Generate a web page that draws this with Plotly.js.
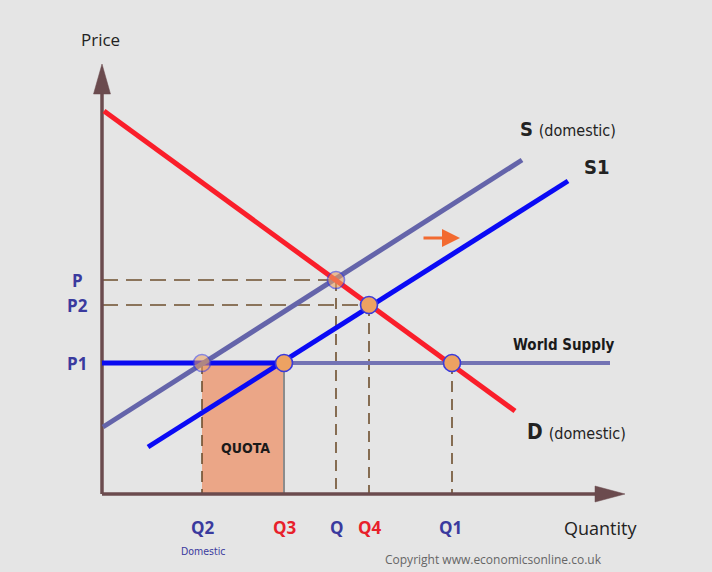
<!DOCTYPE html>
<html>
<head>
<meta charset="utf-8">
<script src="https://cdn.plot.ly/plotly-3.0.1.min.js"></script>
<style>html,body{margin:0;padding:0;background:#e5e5e5;}</style>
</head>
<body>
<div id="chart" style="width:712px;height:572px;"></div>
<script>
// ---- data (arbitrary quantity / price units) ----
const quantityNames = ["Q2", "Q3", "Q", "Q4", "Q1"];
const quantityValues = [10.0, 18.2, 23.4, 26.7, 35.0];
const quantityColors = ["#3a3a9e", "#e8202a", "#3a3a9e", "#e8202a", "#3a3a9e"];
const priceNames = ["P", "P2", "P1"];
const priceValues = [21.4, 18.9, 13.1];

const demandX = [0.2, 41.3];
const demandY = [38.3, 8.3];
const supplyX = [0.1, 42.0];
const supplyY = [6.7, 33.4];
const supply1X = [4.6, 46.6];
const supply1Y = [4.7, 31.3];
const worldSupplyEnd = 50.8;

const yAxisTip = 43.0;
const xAxisTip = 52.3;

const [Q2, Q3, Q, Q4, Q1] = quantityValues;
const [P, P2, P1] = priceValues;

// equilibrium points
const pointX = [Q2, Q3, Q, Q4, Q1];
const pointY = [P1, P1, P, P2, P1];
const pointOpacity = [0.55, 1, 0.6, 1, 1];

const axisColor = "#6b4b4e";
const dashColor = "#6e4f2e";
const slate = "#6464aa";

const traces = [];
function line(x, y, color, width, dash, opacity) {
  traces.push({type: "scatter", mode: "lines", x: x, y: y, hoverinfo: "skip",
    line: {color: color, width: width, dash: dash || "solid"}, opacity: opacity || 1, showlegend: false});
}

// dashed guides
line([0, Q], [P, P], dashColor, 1.6, "16px,8px");
line([0, Q4], [P2, P2], dashColor, 1.6, "16px,8px");
line([Q2, Q2], [P1, 0], dashColor, 1.6, "11px,7px");
line([Q, Q], [P, 0], dashColor, 1.6, "11px,7px");
line([Q4, Q4], [P2, 0], dashColor, 1.6, "11px,7px");
line([Q1, Q1], [P1, 0], dashColor, 1.6, "11px,7px");
// quota right edge
line([Q3, Q3], [P1, 0], "#8c8c8c", 2);

// axes
line([0, 0], [0, yAxisTip - 2.8], axisColor, 3.5);
line([0, xAxisTip - 2.8], [0, 0], axisColor, 3.5);
traces.push({type: "scatter", mode: "lines", fill: "toself", fillcolor: axisColor, hoverinfo: "skip",
  x: [0, -0.85, 0.85, 0], y: [yAxisTip, yAxisTip - 3.0, yAxisTip - 3.0, yAxisTip],
  line: {color: axisColor, width: 0.5}, showlegend: false});
traces.push({type: "scatter", mode: "lines", fill: "toself", fillcolor: axisColor, hoverinfo: "skip",
  x: [xAxisTip, xAxisTip - 3.0, xAxisTip - 3.0, xAxisTip], y: [0, 0.8, -0.8, 0],
  line: {color: axisColor, width: 0.5}, showlegend: false});

// world supply
line([Q3, worldSupplyEnd], [P1, P1], "#7373b4", 4);
line([0, Q3], [P1, P1], "#0a0af0", 5);

// supply & demand
line(supplyX, supplyY, slate, 5);
line(supply1X, supply1Y, "#0a0af5", 5);
line(demandX, demandY, "#fa1e2a", 5);

// points
pointX.forEach((px, i) => {
  traces.push({type: "scatter", mode: "markers", x: [px], y: [pointY[i]], hoverinfo: "skip",
    marker: {size: 17, color: "#eda262", line: {color: "#3a3adc", width: 1.6}},
    opacity: pointOpacity[i], showlegend: false});
});

const condensed = "DejaVu Sans Condensed, sans-serif";
const lab = (text, x, y, size, color, opts) => Object.assign({
  text: text, x: x, y: y, xref: "x", yref: "y", showarrow: false,
  font: {family: "Open Sans, sans-serif", size: size, color: color}
}, opts || {});

const annotations = [];
annotations.push(lab("Price", -0.2, 45.5, 17, "#222"));
priceNames.forEach((n, i) => annotations.push(lab("<b>" + n + "</b>", -2.5, priceValues[i], 17, "#3a3a9e")));
quantityNames.forEach((n, i) => annotations.push(lab("<b>" + n + "</b>", quantityValues[i] + (n === "Q1" ? -0.2 : 0.1), -3.3, 17, quantityColors[i])));
annotations.push(lab("Domestic", Q2 + 0.1, -5.7, 10, "#3a3a9e", {font: {family: condensed, size: 10.5, color: "#3a3a9e"}}));
annotations.push(lab("Quantity", 49.8, -3.4, 18, "#222"));
annotations.push(lab("<b>S</b> <span style='font-size:16px'>(domestic)</span>", 46.6, 36.5, 20, "#222",
  {font: {family: condensed, size: 20, color: "#222"}}));
annotations.push(lab("<b>S1</b>", 49.4, 32.7, 20, "#222",
  {font: {family: condensed, size: 20, color: "#222"}}));
annotations.push(lab("<b>World Supply</b>", 46.2, 14.9, 15, "#1a1a1a",
  {font: {family: condensed, size: 15, color: "#1a1a1a"}}));
annotations.push(lab("<b>D</b> <span style='font-size:16px'>(domestic)</span>", 47.4, 6.2, 21, "#222",
  {font: {family: condensed, size: 21, color: "#222"}}));
annotations.push(lab("<b>QUOTA</b>", 14.3, 4.6, 14, "#1a1a1a",
  {font: {family: condensed, size: 14, color: "#1a1a1a"}}));
annotations.push({text: "Copyright www.economicsonline.co.uk", x: 39.1, xref: "x", y: 0.003, yref: "paper",
  yanchor: "bottom", showarrow: false, font: {family: "Open Sans, sans-serif", size: 12, color: "#666"}});
// shift arrow
annotations.push({x: 35.8, y: 25.6, ax: 32.0, ay: 25.6, xref: "x", yref: "y", axref: "x", ayref: "y",
  showarrow: true, arrowhead: 2, arrowsize: 1.2, arrowwidth: 3, arrowcolor: "#f26a30", text: ""});

const layout = {
  width: 712, height: 572,
  margin: {l: 0, r: 0, t: 0, b: 0},
  paper_bgcolor: "#e5e5e5", plot_bgcolor: "#e5e5e5",
  xaxis: {range: [-10.2, 61.0], visible: false, fixedrange: true},
  yaxis: {range: [-7.8, 49.4], visible: false, fixedrange: true},
  shapes: [{type: "rect", xref: "x", yref: "y", x0: Q2, x1: Q3, y0: 0, y1: P1,
    fillcolor: "#eba687", line: {width: 0}, layer: "below"}],
  annotations: annotations,
  showlegend: false
};

Plotly.newPlot("chart", traces, layout, {displayModeBar: false, staticPlot: true});
</script>
</body>
</html>
